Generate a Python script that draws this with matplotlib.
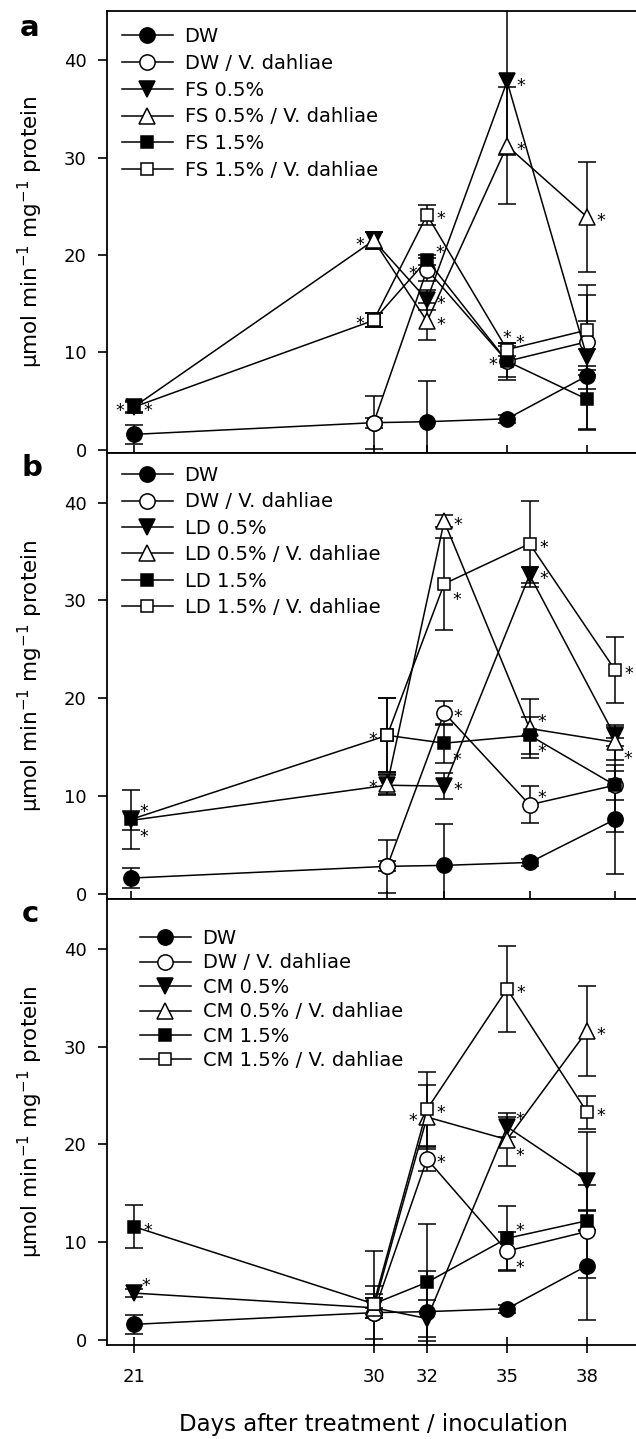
import matplotlib
matplotlib.use("Agg")
import matplotlib.pyplot as plt

plt.rcParams['font.family'] = ['DejaVu Sans']
plt.rcParams['mathtext.fontset'] = 'dejavusans'

# ---------------- data ----------------
days = [21, 30, 32, 35, 38]
days_vd = [30, 32, 35, 38]
x_ticks = [21, 30, 32, 35, 38]
y_ticks = [0, 10, 20, 30, 40]

# shared controls
dw_mean = [1.6, 2.8, 2.9, 3.2, 7.6]
dw_err = [1.0, 0.5, 4.2, 0.4, 5.6]
dwvd_mean = [2.8, 18.5, 9.1, 11.1]
dwvd_err = [2.7, 1.2, 1.9, 4.8]

# panel a: FS
fs05_mean = [4.4, 21.5, 15.4, 37.8, 9.5]
fs05_err = [0.5, 0.9, 1.0, 7.5, 0.9]
fs05vd_mean = [21.5, 13.2, 31.2, 23.9]
fs05vd_err = [0.9, 1.9, 6.0, 5.6]
fs15_mean = [4.4, 13.3, 19.5, 9.1, 5.2]
fs15_err = [0.6, 0.7, 0.5, 1.6, 3.0]
fs15vd_mean = [13.3, 24.1, 10.3, 12.3]
fs15vd_err = [0.7, 1.0, 0.7, 4.6]

# panel b: LD
ld05_mean = [7.5, 11.1, 11.0, 32.6, 16.1]
ld05_err = [1.0, 1.0, 1.3, 0.8, 1.0]
ld05vd_mean = [11.2, 38.1, 16.9, 15.5]
ld05vd_err = [1.0, 0.6, 3.0, 1.8]
ld15_mean = [7.6, 16.2, 15.4, 16.2, 11.1]
ld15_err = [3.0, 3.8, 2.0, 1.9, 1.5]
ld15vd_mean = [16.2, 31.7, 35.8, 22.9]
ld15vd_err = [3.8, 4.7, 4.4, 3.4]

# panel c: CM
cm05_mean = [4.8, 3.3, 2.2, 21.8, 16.3]
cm05_err = [0.4, 1.0, 1.9, 1.0, 5.0]
cm05vd_mean = [3.3, 22.8, 20.5, 31.6]
cm05vd_err = [1.0, 3.3, 2.7, 4.6]
cm15_mean = [11.6, 3.7, 5.9, 10.4, 12.2]
cm15_err = [2.2, 1.0, 6.0, 3.3, 1.1]
cm15vd_mean = [3.7, 23.6, 35.9, 23.3]
cm15vd_err = [5.4, 3.8, 4.4, 1.7]

labels_a = ['DW', 'DW / V. dahliae', 'FS 0.5%', 'FS 0.5% / V. dahliae', 'FS 1.5%', 'FS 1.5% / V. dahliae']
labels_b = ['DW', 'DW / V. dahliae', 'LD 0.5%', 'LD 0.5% / V. dahliae', 'LD 1.5%', 'LD 1.5% / V. dahliae']
labels_c = ['DW', 'DW / V. dahliae', 'CM 0.5%', 'CM 0.5% / V. dahliae', 'CM 1.5%', 'CM 1.5% / V. dahliae']

# significance asterisks: (series index, day, side)
stars_a = [(2, 21, 'l'), (4, 21, 'r'), (3, 30, 'l'), (5, 30, 'l'),
           (5, 32, 'r'), (4, 32, 'ur'), (1, 32, 'l'), (2, 32, 'r'), (3, 32, 'r'),
           (2, 35, 'r'), (3, 35, 'r'), (5, 35, 'u'), (5, 35, 'ur'), (4, 35, 'l'),
           (3, 38, 'r')]
stars_b = [(4, 21, 'ur'), (2, 21, 'lr'), (5, 30, 'l'), (3, 30, 'l'),
           (3, 32, 'r'), (5, 32, 'lr'), (1, 32, 'r'), (4, 32, 'lr'), (2, 32, 'r'),
           (5, 35, 'r'), (2, 35, 'r'), (3, 35, 'ur'), (4, 35, 'lr'), (1, 35, 'ur'),
           (5, 38, 'r'), (3, 38, 'lr')]
stars_c = [(4, 21, 'r'), (2, 21, 'ur'),
           (5, 32, 'r'), (3, 32, 'l'), (1, 32, 'r'),
           (5, 35, 'r'), (2, 35, 'ur'), (3, 35, 'lr'), (4, 35, 'ur'), (1, 35, 'lr'),
           (3, 38, 'r'), (5, 38, 'r')]

# ---------------- styling ----------------
W, H = 636, 1439
fig = plt.figure(figsize=(W / 100, H / 100), dpi=100)

styles = [('o', 'k', 11), ('o', 'w', 11), ('v', 'k', 11),
          ('^', 'w', 11), ('s', 'k', 8.7), ('s', 'w', 8.7)]
offsets = {'r': (10, 0), 'l': (-10, 0), 'u': (0, 11), 'ur': (9, 8),
           'lr': (9, -9), 'ul': (-9, 8)}

FS = 13


def px_ax(top, bottom, left=107, width=547):
    return fig.add_axes([left / W, 1 - bottom / H, width / W, (bottom - top) / H])


def draw_panel(ax, xlim, ylim, series, labels, stars, leg_xy, leg_sp, letter_xy, letter, show_xlabels):
    ax.set_xlim(*xlim)
    ax.set_ylim(*ylim)
    handles = []
    for i, (x, m, e) in enumerate(series):
        mk, fc, ms = styles[i]
        ax.errorbar(x, m, yerr=e, fmt='none', ecolor='k', elinewidth=1.1,
                    capsize=6.5, capthick=1.1, zorder=2)
        h, = ax.plot(x, m, marker=mk, color='k', mfc=fc, mec='k', ms=ms,
                     mew=1.1, lw=1.1, zorder=3 + i * 0.01, label=labels[i])
        handles.append(h)
    for (si, d, side) in stars:
        x, m, e = series[si]
        v = m[list(x).index(d)]
        dx, dy = offsets[side]
        ax.annotate('*', (d, v), xytext=(dx, dy - 3), textcoords='offset points',
                    ha='center', va='center', fontsize=12.5, zorder=6)
    ax.legend(handles=handles, loc='upper left',
              bbox_to_anchor=(leg_xy[0] / W, 1 - leg_xy[1] / H),
              bbox_transform=fig.transFigure, frameon=False, fontsize=14,
              handlelength=2.6, handletextpad=0.62, labelspacing=leg_sp,
              borderpad=0, borderaxespad=0, numpoints=1)
    ax.set_xticks(x_ticks)
    ax.set_yticks(y_ticks)
    ax.tick_params(axis='y', direction='out', length=6.5, width=1.2, labelsize=FS, pad=8)
    ax.tick_params(axis='x', direction='inout', length=11.5, width=1.2, labelsize=FS,
                   pad=11, labelbottom=show_xlabels)
    for s in ['left', 'bottom', 'top']:
        ax.spines[s].set_linewidth(1.3)
    ax.spines['right'].set_visible(False)
    ax.text(-0.1408, 0.5, r'$\mathrm{\mu}$mol min$^{-1}$ mg$^{-1}$ protein',
            transform=ax.transAxes, rotation=90, ha='center', va='center', fontsize=15.5)
    fig.text(letter_xy[0] / W, 1 - letter_xy[1] / H, letter, fontsize=21,
             fontweight='bold', ha='center', va='center')


def build(mean_lists, err_lists):
    xs = [days, days_vd, days, days_vd, days, days_vd]
    return list(zip(xs, mean_lists, err_lists))


series_a = build([dw_mean, dwvd_mean, fs05_mean, fs05vd_mean, fs15_mean, fs15vd_mean],
                 [dw_err, dwvd_err, fs05_err, fs05vd_err, fs15_err, fs15vd_err])
series_b = build([dw_mean, dwvd_mean, ld05_mean, ld05vd_mean, ld15_mean, ld15vd_mean],
                 [dw_err, dwvd_err, ld05_err, ld05vd_err, ld15_err, ld15vd_err])
series_c = build([dw_mean, dwvd_mean, cm05_mean, cm05vd_mean, cm15_mean, cm15vd_mean],
                 [dw_err, dwvd_err, cm05_err, cm05vd_err, cm15_err, cm15vd_err])

ax_a = px_ax(11, 453)
draw_panel(ax_a, (20.0, 20.0 + 547 / 26.67), (-0.31, 45.03), series_a, labels_a, stars_a,
           (122, 27), 0.4, (30, 28), 'a', False)
ax_b = px_ax(453, 899)
draw_panel(ax_b, (20.157, 20.157 + 547 / 28.47), (-0.54, 45.08), series_b, labels_b, stars_b,
           (122, 466), 0.38, (32, 468), 'b', False)
ax_c = px_ax(899, 1345)
draw_panel(ax_c, (20.0, 20.0 + 547 / 26.67), (-0.51, 45.1), series_c, labels_c, stars_c,
           (140, 929), 0.28, (30, 914), 'c', True)

fig.text(373 / W, 1 - 1425 / H, 'Days after treatment / inoculation', fontsize=16.5,
         ha='center', va='center')

fig.savefig('out.png', dpi=100)
